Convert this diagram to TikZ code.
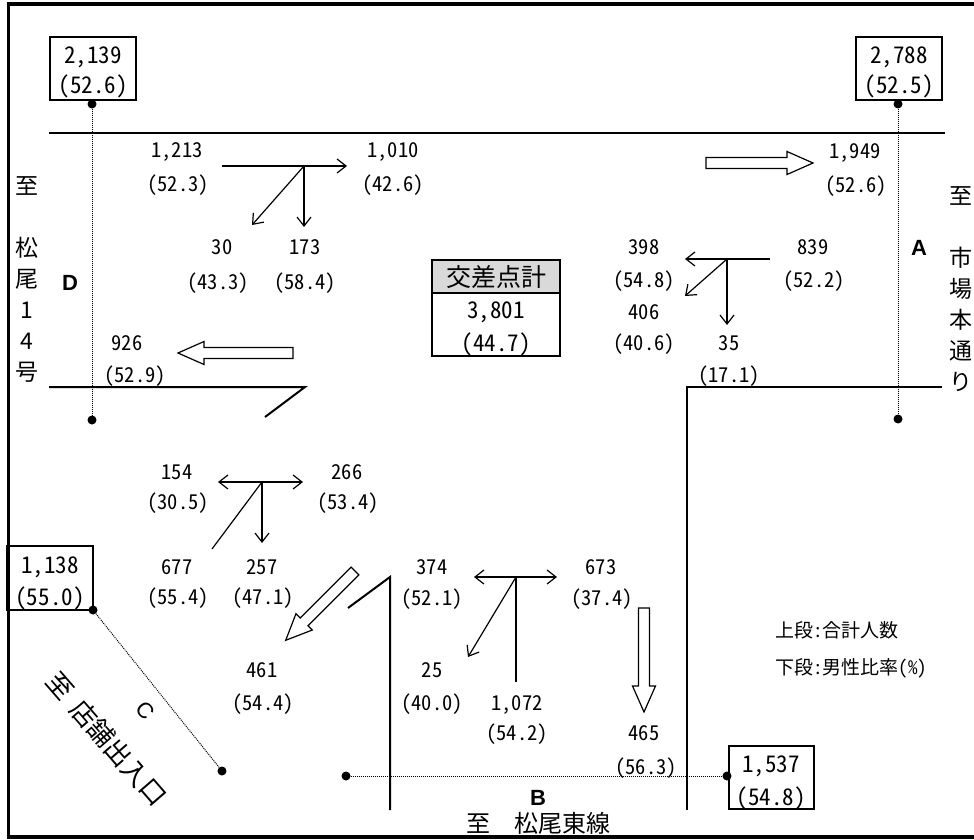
\documentclass[tikz,border=0pt]{standalone}
\usepackage{fontspec}
\setmainfont{Noto Sans CJK JP}
\newfontfamily\numf[CharacterWidth=Half]{Noto Sans CJK JP}
\newfontfamily\latf{Liberation Sans}
\usetikzlibrary{arrows.meta}
\tikzset{
 road/.style={line width=2pt},
 flow/.style={line width=1.2pt},
 >={Straight Barb[length=9pt,width=14pt]},
 dotline/.style={line width=1pt, dash pattern=on 1pt off 1pt},
 dotend/.style={circle, fill=black, inner sep=0pt, minimum size=9pt},
 boxline/.style={line width=1.6pt},
 num/.style={font=\numf\fontsize{20.5}{20.5}\selectfont, inner sep=0pt, text height=15pt, text depth=0pt},
 bignum/.style={font=\numf\fontsize{23}{23}\selectfont, inner sep=0pt, text height=16.5pt, text depth=0pt},
 cjk/.style={font=\fontsize{24}{24}\selectfont, inner sep=0pt, text height=18pt, text depth=0pt},
 legend/.style={font=\numf\fontsize{19}{19}\selectfont, inner sep=0pt, text height=14pt, text depth=0pt, anchor=west},
 vtext/.style={font=\fontsize{23}{31}\selectfont, align=center, inner sep=0pt},
 letter/.style={font=\latf\bfseries\fontsize{22}{22}\selectfont, inner sep=0pt, text height=16pt, text depth=0pt},
 pics/bigarrow/.style={code={\draw[line width=1.2pt, fill=white] (0,-5.5) -- (#1-26,-5.5) -- (#1-26,-11.5) -- (#1,0) -- (#1-26,11.5) -- (#1-26,5.5) -- (0,5.5) -- cycle;}}
}
\begin{document}
\begin{tikzpicture}[x=1pt,y=-1pt]
\useasboundingbox (0,0) rectangle (974,840);
% frame
\draw[line width=4pt] (6.5,4) -- (976,4);
\draw[line width=3pt] (8,2) -- (8,839);
\draw[line width=4pt] (6.5,837) -- (976,837);
% roads
\draw[road] (49,133) -- (945,133);
\draw[road] (49,387) -- (305,387) -- (265,417);
\draw[road] (942,387) -- (687,387) -- (687,810);
\draw[road] (348,608) -- (390,577) -- (390,810);
% boxes
\draw[boxline] (50,37) rectangle (136,100);
\node[bignum] (b1a) at (93,55) {2,139};
\node[bignum] (b1b) at (93,85) {(52.6)};
\draw[boxline] (856,37) rectangle (942,100);
\node[bignum] (b2a) at (899,55) {2,788};
\node[bignum] (b2b) at (899,85) {(52.5)};
\draw[boxline] (7,546) rectangle (93,610);
\node[bignum] (b3a) at (50,565) {1,138};
\node[bignum] (b3b) at (50,597) {(55.0)};
\draw[boxline] (729,746) rectangle (814,809);
\node[bignum] (b4a) at (771,764) {1,537};
\node[bignum] (b4b) at (771,797) {(54.8)};
% total box
\fill[gray!30] (432,260) rectangle (560,293);
\draw[boxline] (432,260) rectangle (560,356);
\draw[boxline] (432,293) -- (560,293);
\node[cjk, font=\fontsize{25}{25}\selectfont] (tt) at (496,277) {交差点計};
\node[bignum] (tn) at (496,310) {3,801};
\node[bignum] (tp) at (496,343) {(44.7)};
% dotted links
\node[dotend] (pD1) at (92,104) {};
\node[dotend] (pD2) at (92,420) {};
\node[dotend] (pA1) at (898,104) {};
\node[dotend] (pA2) at (898,419) {};
\node[dotend] (pC1) at (93,610) {};
\node[dotend] (pC2) at (222,771) {};
\node[dotend] (pB1) at (346,776) {};
\node[dotend] (pB2) at (727,776) {};
\draw[dotline] (pD1) -- (pD2);
\draw[dotline] (pA1) -- (pA2);
\draw[dotline] (pC1) -- (pC2);
\draw[dotline] (pB1) -- (pB2);
% hollow arrows
\pic[rotate=180] at (293,353) {bigarrow=115};
\pic at (706,163) {bigarrow=107};
\pic[rotate=-90] at (644,608) {bigarrow=104};
\pic[rotate=-135] at (355,571) {bigarrow=98};
% junction 1
\coordinate (j1) at (304,166);
\coordinate (j1w) at (222,166);
\coordinate (j1e) at (347,166);
\coordinate (j1sw) at (252,225);
\coordinate (j1s) at (304,227);
\draw[flow,->] (j1w) -- (j1e);
\draw[flow,->] (j1) -- (j1sw);
\draw[flow,->] (j1) -- (j1s);
% junction 2
\coordinate (j2) at (727,259);
\coordinate (j2e) at (770,259);
\coordinate (j2w) at (685,259);
\coordinate (j2sw) at (685,296);
\coordinate (j2s) at (727,325);
\draw[flow,->] (j2e) -- (j2w);
\draw[flow,->] (j2) -- (j2sw);
\draw[flow,->] (j2) -- (j2s);
% junction 3
\coordinate (j3) at (262,482);
\coordinate (j3w) at (218,482);
\coordinate (j3e) at (303,482);
\coordinate (j3sw) at (212,549);
\coordinate (j3s) at (262,543);
\draw[flow,<->] (j3w) -- (j3e);
\draw[flow] (j3) -- (j3sw);
\draw[flow,->] (j3) -- (j3s);
% junction 4
\coordinate (j4) at (516,577);
\coordinate (j4w) at (474,577);
\coordinate (j4e) at (557,577);
\coordinate (j4sw) at (468,657);
\coordinate (j4s) at (516,682);
\draw[flow,<->] (j4w) -- (j4e);
\draw[flow,->] (j4) -- (j4sw);
\draw[flow] (j4) -- (j4s);
% labels
\node[num] (l1a) at (177,150) {1,213};
\node[num] (l1b) at (178,184) {(52.3)};
\node[num] (l2a) at (393,150) {1,010};
\node[num] (l2b) at (393,184) {(42.6)};
\node[num] (l3a) at (222,247) {30};
\node[num] (l3b) at (218,282) {(43.3)};
\node[num] (l4a) at (305,247) {173};
\node[num] (l4b) at (305,282) {(58.4)};
\node[num] (l5a) at (127,343) {926};
\node[num] (l5b) at (135,375) {(52.9)};
\node[num] (l6a) at (855,151) {1,949};
\node[num] (l6b) at (856,185) {(52.6)};
\node[num] (l7a) at (644,247) {398};
\node[num] (l7b) at (644,280) {(54.8)};
\node[num] (l8a) at (644,312) {406};
\node[num] (l8b) at (644,343) {(40.6)};
\node[num] (l9a) at (813,247) {839};
\node[num] (l9b) at (814,280) {(52.2)};
\node[num] (l10a) at (729,343) {35};
\node[num] (l10b) at (729,375) {(17.1)};
\node[num] (l11a) at (177,472) {154};
\node[num] (l11b) at (178,502) {(30.5)};
\node[num] (l12a) at (347,472) {266};
\node[num] (l12b) at (348,502) {(53.4)};
\node[num] (l13a) at (177,567) {677};
\node[num] (l13b) at (178,597) {(55.4)};
\node[num] (l14a) at (262,567) {257};
\node[num] (l14b) at (263,597) {(47.1)};
\node[num] (l15a) at (262,670) {461};
\node[num] (l15b) at (263,703) {(54.4)};
\node[num] (l16a) at (432,567) {374};
\node[num] (l16b) at (432,598) {(52.1)};
\node[num] (l17a) at (601,567) {673};
\node[num] (l17b) at (602,598) {(37.4)};
\node[num] (l18a) at (432,670) {25};
\node[num] (l18b) at (432,703) {(40.0)};
\node[num] (l19a) at (517,703) {1,072};
\node[num] (l19b) at (517,733) {(54.2)};
\node[num] (l20a) at (644,733) {465};
\node[num] (l20b) at (646,767) {(56.3)};
% road names
\node[vtext] (rdD) at (27,279) {至\\[31pt]松\\尾\\1\\4\\号};
\node[vtext] (rdA) at (961,289) {至\\[31pt]市\\場\\本\\通\\り};
\node[letter] (lD) at (70,282) {D};
\node[letter] (lA) at (919,247) {A};
\node[letter] (lB) at (538,797) {B};
\node[cjk] (rdB) at (538,823) {至\hspace{1em}松尾東線};
\node[font=\fontsize{26}{26}\selectfont, rotate=-49, inner sep=0pt] (rdC) at (107,739) {至\hspace{0.4em}店舗出入口};
\node[font=\latf\fontsize{22}{22}\selectfont, rotate=-49, inner sep=0pt] (lC) at (145,711) {C};
% legend
\node[legend] (lg1) at (775,630) {上段:合計人数};
\node[legend] (lg2) at (775,667) {下段:男性比率(\%)};
\end{tikzpicture}
\end{document}
